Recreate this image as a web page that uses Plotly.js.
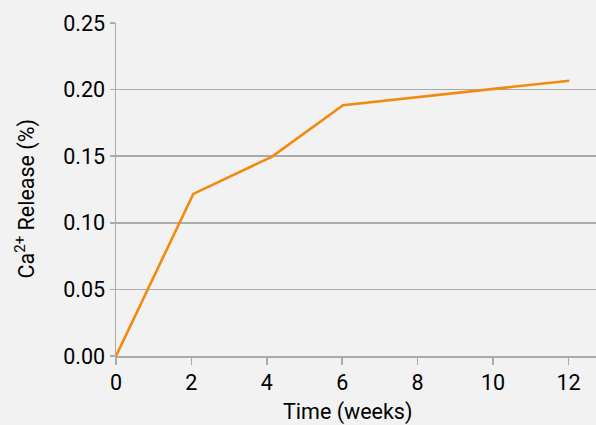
<!DOCTYPE html>
<html>
<head>
<meta charset="utf-8">
<script src="https://cdn.plot.ly/plotly-3.0.1.min.js"></script>
<style>html,body{margin:0;padding:0;background:#f2f2f2;}#chart{width:596px;height:425px;}</style>
</head>
<body>
<div id="chart"></div>
<script>
const weeks = [0, 2.05, 4.14, 6.02, 12.02];
const release = [0, 0.1217, 0.1497, 0.1883, 0.2067];
const xTicks = [0, 2, 4, 6, 8, 10, 12];
const yTicks = [0, 0.05, 0.10, 0.15, 0.20, 0.25];
const yTickText = ['0.00', '0.05', '0.10', '0.15', '0.20', '0.25'];

const font = {family: 'Roboto, "Open Sans", sans-serif', size: 21.5, color: '#000'};

Plotly.newPlot('chart', [{
  x: weeks, y: release, type: 'scatter', mode: 'lines',
  line: {color: '#f28a10', width: 2.6}, hoverinfo: 'skip'
}], {
  width: 596, height: 425,
  margin: {l: 115.5, r: 0, t: 23, b: 69, pad: 0},
  paper_bgcolor: '#f2f2f2', plot_bgcolor: '#f2f2f2',
  font: font,
  showlegend: false,
  xaxis: {
    range: [0, 12.73], tickvals: xTicks, ticktext: xTicks.map(String),
    showgrid: false, zeroline: false,
    showline: true, linecolor: '#aaaaaa', linewidth: 1.5,
    ticks: 'outside', ticklen: 7, tickcolor: '#aaaaaa', tickwidth: 1.5,
    tickfont: font
  },
  yaxis: {
    range: [0, 0.25], tickvals: yTicks, ticktext: yTickText,
    showgrid: true, gridcolor: '#aaaaaa', gridwidth: 1.5, zeroline: false,
    showline: true, linecolor: '#aaaaaa', linewidth: 1.5,
    ticks: 'outside', ticklen: 5, tickcolor: '#aaaaaa', tickwidth: 1.5,
    tickfont: font
  },
  annotations: [
    {text: 'Time (weeks)', xref: 'paper', yref: 'paper', x: (347.5 - 115.5) / 480.5, y: -0.168,
     xanchor: 'center', yanchor: 'middle', showarrow: false, font: font},
    {text: 'Ca<sup>2+</sup> Release (%)', xref: 'paper', yref: 'paper', x: 0, y: 0.5,
     xshift: -91, yshift: -10, textangle: -90, xanchor: 'center', yanchor: 'middle',
     showarrow: false, font: font}
  ]
}, {displayModeBar: false, staticPlot: true});
</script>
</body>
</html>
